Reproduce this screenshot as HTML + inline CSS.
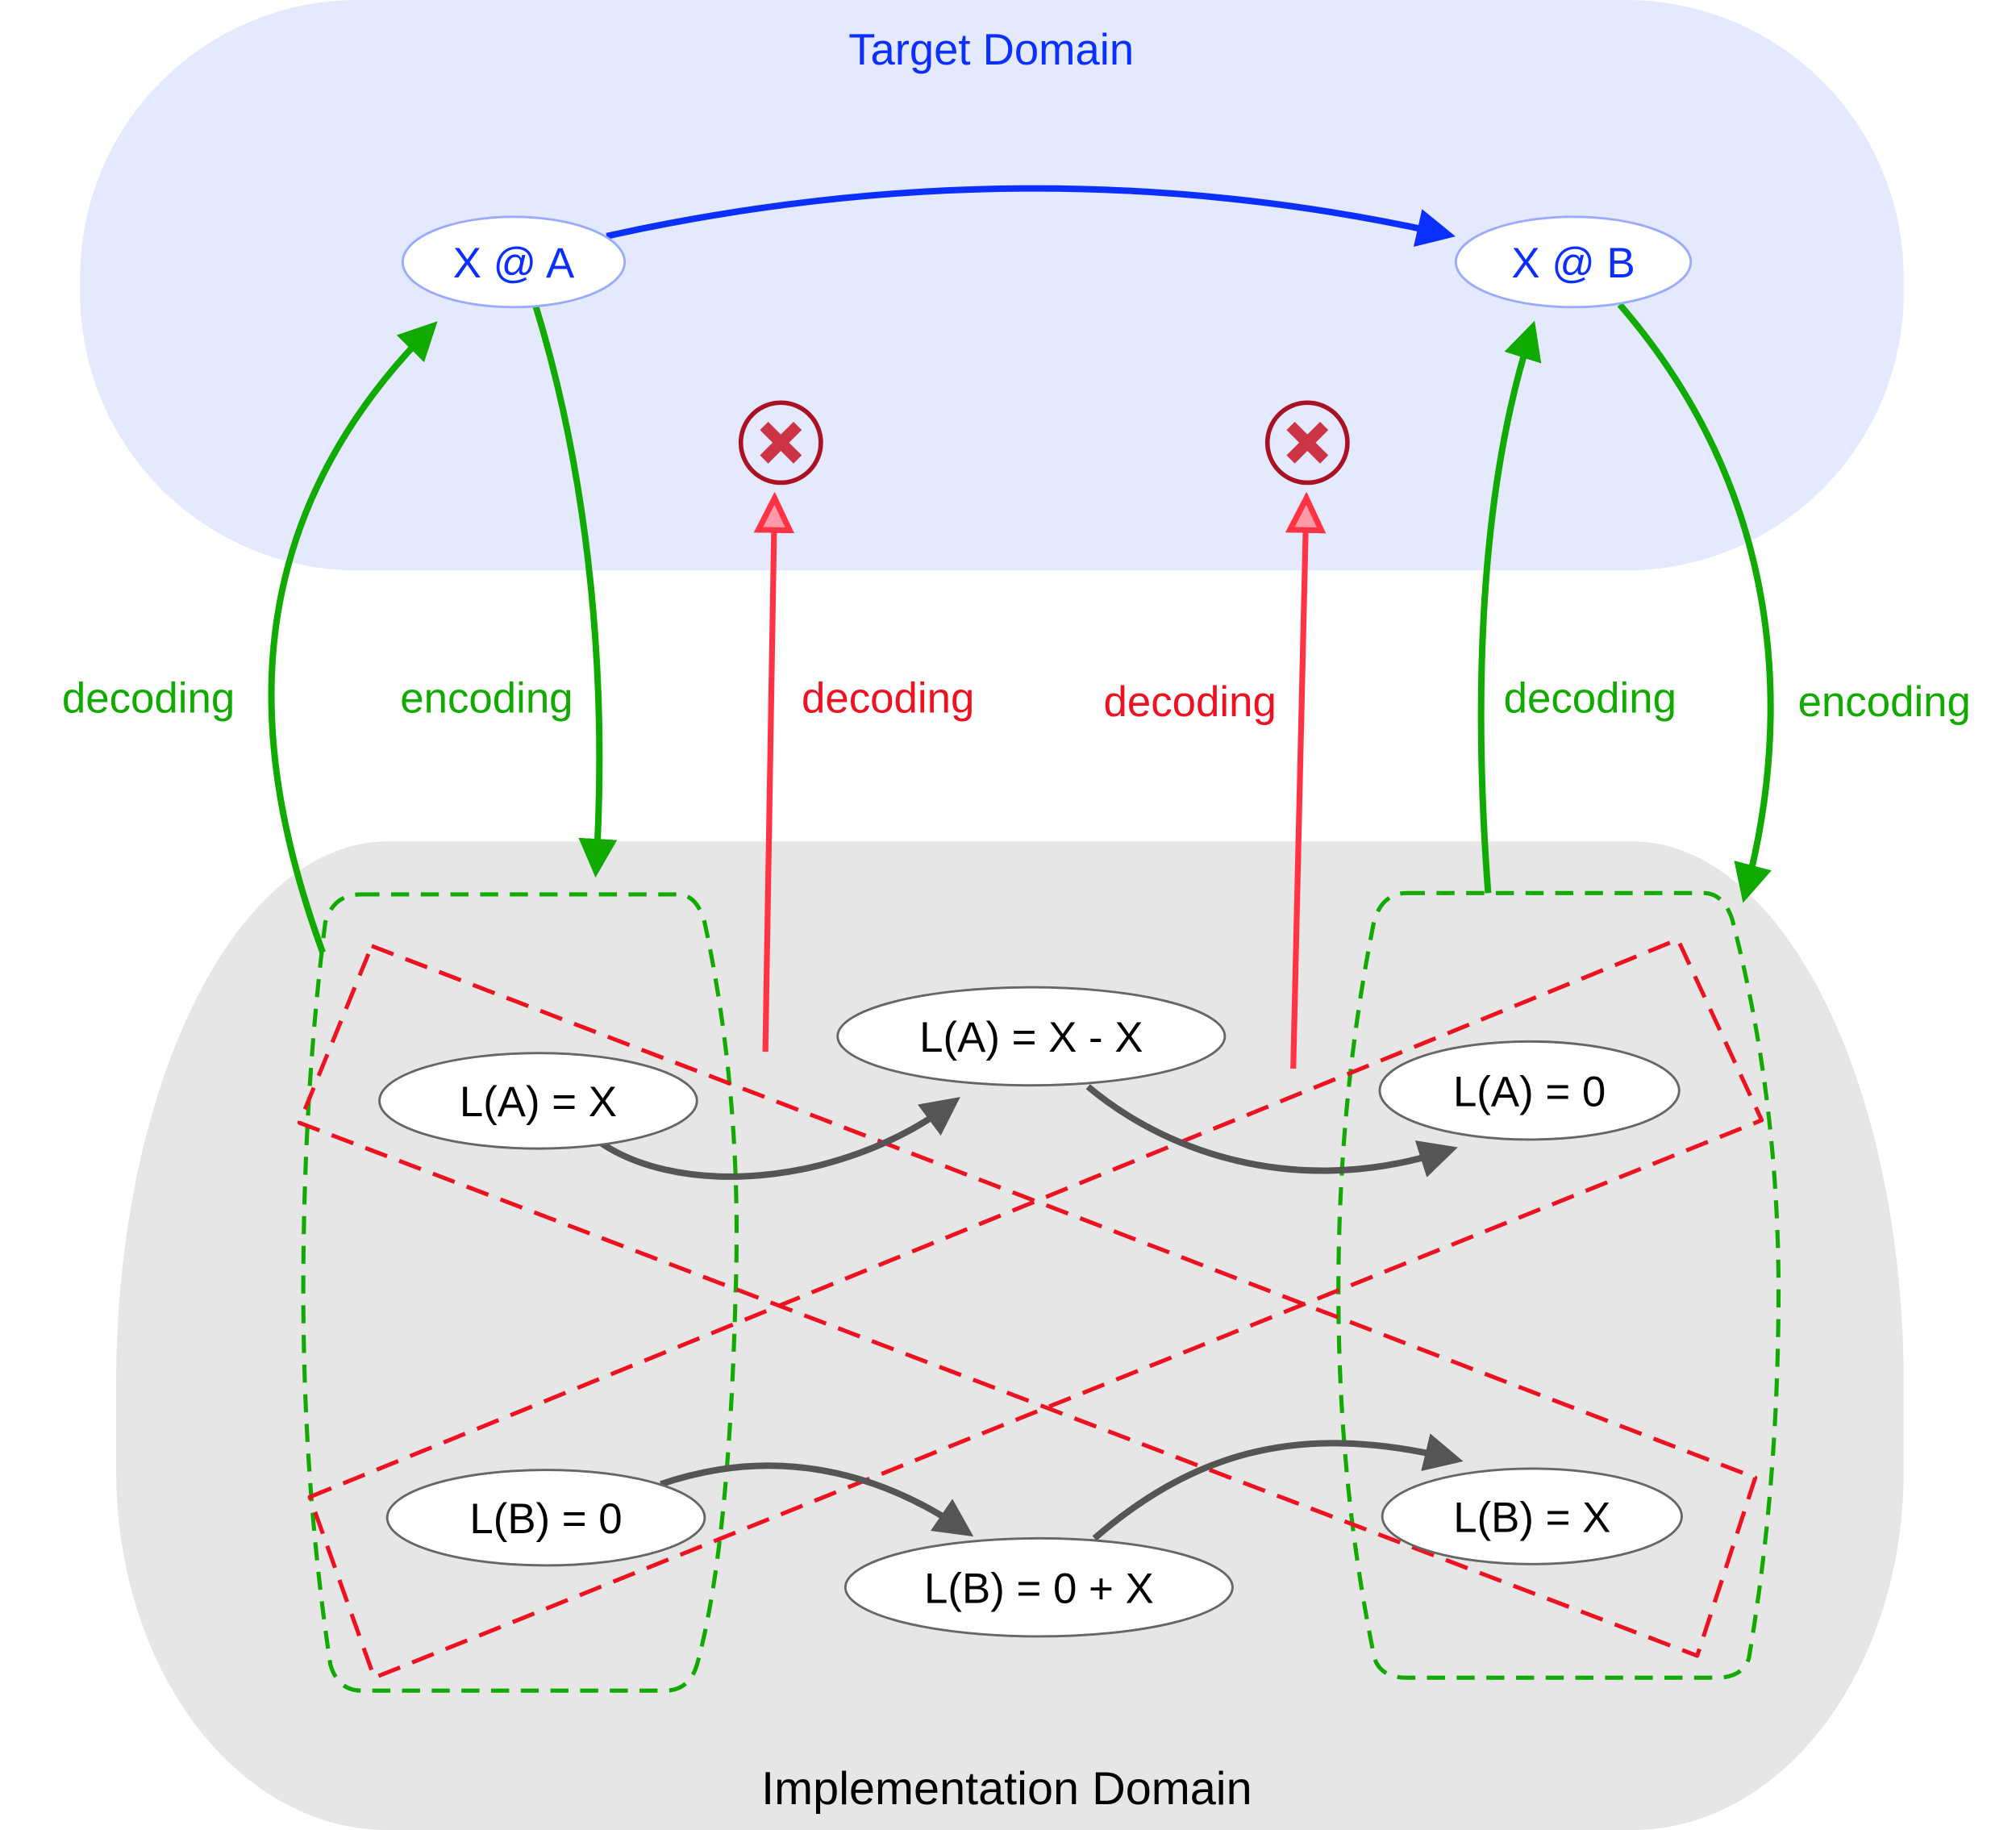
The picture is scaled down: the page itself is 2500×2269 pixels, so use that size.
<!DOCTYPE html>
<html><head><meta charset="utf-8"><style>html,body{margin:0;padding:0;background:#fff}svg{display:block}text{font-family:"Liberation Sans",sans-serif}</style></head>
<body>
<svg width="2500" height="2269" viewBox="0 0 1562 1418" preserveAspectRatio="none" xmlns="http://www.w3.org/2000/svg">
<defs>
<marker id="ag" markerWidth="6" markerHeight="6" refX="4" refY="3" orient="auto" markerUnits="strokeWidth"><path d="M0,0 L6,3 L0,6 z" fill="#11aa00"/></marker>
<marker id="ab" markerWidth="6" markerHeight="6" refX="4" refY="3" orient="auto" markerUnits="strokeWidth"><path d="M0,0 L6,3 L0,6 z" fill="#0a2fff"/></marker>
<marker id="ak" markerWidth="6" markerHeight="6" refX="4" refY="3" orient="auto" markerUnits="strokeWidth"><path d="M0,0 L6,3 L0,6 z" fill="#555"/></marker>
<marker id="ar" markerWidth="7" markerHeight="7" refX="4" refY="3.5" orient="auto" markerUnits="strokeWidth"><path d="M0.5,0.8 L6,3.5 L0.5,6.2 z" fill="#ff9aa8" stroke="#ff3344" stroke-width="1"/></marker>
</defs>
<rect x="62" y="0" width="1413" height="442" rx="215" ry="215" fill="#e5e9fe"/>
<path d="M300,652 L1265,652 A210,420 0 0 1 1475,1072 L1475,1140 A210,278 0 0 1 1265,1418 L300,1418 A210,278 0 0 1 90,1140 L90,1072 A210,420 0 0 1 300,652 Z" fill="#e6e6e6"/>
<text x="768" y="50" font-size="34" fill="#0a2fff" text-anchor="middle">Target Domain</text>
<text x="780" y="1398" font-size="36" fill="#000" text-anchor="middle">Implementation Domain</text>
<g fill="none" stroke="#11aa00" stroke-width="3.2" stroke-dasharray="14,9">
<path d="M280,693 L525,693 Q540,693 546,715 Q575,850 570,1000 Q565,1200 540,1290 Q534,1310 515,1310 L280,1310 Q262,1310 256,1290 Q235,1150 235,1000 Q235,850 252,715 Q258,693 280,693 Z"/>
<path d="M1090,692 L1320,692 Q1335,692 1342,712 Q1378,850 1378,1000 Q1378,1150 1355,1285 Q1350,1300 1330,1300 L1090,1300 Q1070,1300 1065,1285 Q1037,1150 1037,1000 Q1037,850 1065,712 Q1072,692 1090,692 Z"/>
</g>
<g fill="none" stroke="#ee1122" stroke-width="3.2" stroke-dasharray="18,10" stroke-linejoin="round">
<path d="M288,733 L1360,1145 L1315,1283 L232,870 Z"/>
<path d="M240,1160 L1300,728 L1365,868 L290,1300 Z"/>
</g>
<path d="M470,183 Q800,110 1118,181" fill="none" stroke="#0a2fff" stroke-width="5" marker-end="url(#ab)"/>
<g fill="none" stroke="#11aa00" stroke-width="5" marker-end="url(#ag)">
<path d="M250,738 C200,600 170,420 332,256"/>
<path d="M415,237 C450,350 472,500 462,670"/>
<path d="M1153,692 C1140,520 1150,370 1186,258"/>
<path d="M1255,236 C1380,380 1390,550 1353,690"/>
</g>
<g fill="none" stroke="#ff3344" stroke-width="4.5" marker-end="url(#ar)">
<path d="M593,815 L600,395"/>
<path d="M1002,828 L1012,395"/>
</g>
<g fill="none" stroke="#555" stroke-width="5" marker-end="url(#ak)">
<path d="M458,880 C520,930 650,920 736,856"/>
<path d="M843,842 C900,890 1000,930 1120,892"/>
<path d="M512,1150 C600,1120 680,1140 746,1185"/>
<path d="M848,1192 C920,1130 1000,1100 1124,1130"/>
</g>
<g font-size="33" text-anchor="middle">
<text x="115" y="552" fill="#11aa00">decoding</text>
<text x="377" y="552" fill="#11aa00">encoding</text>
<text x="688" y="552" fill="#ee1122">decoding</text>
<text x="922" y="555" fill="#ee1122">decoding</text>
<text x="1232" y="552" fill="#11aa00">decoding</text>
<text x="1460" y="555" fill="#11aa00">encoding</text>
</g>
<g stroke="#aa1122" stroke-width="3.5" fill="#e5e9fe">
<circle cx="605" cy="343" r="31"/><circle cx="1013" cy="343" r="31"/>
</g>
<g stroke="#cc3344" stroke-width="9">
<path d="M592,330 L618,356 M618,330 L592,356"/>
<path d="M1000,330 L1026,356 M1026,330 L1000,356"/>
</g>
<g fill="#fff" stroke-width="1.8">
<ellipse cx="398" cy="203" rx="86" ry="35" stroke="#99aaff"/>
<ellipse cx="1219" cy="203" rx="91" ry="35" stroke="#99aaff"/>
<ellipse cx="417" cy="853" rx="123" ry="37" stroke="#666"/>
<ellipse cx="799" cy="803" rx="150" ry="38" stroke="#666"/>
<ellipse cx="1185" cy="845" rx="116" ry="38" stroke="#666"/>
<ellipse cx="423" cy="1176" rx="123" ry="37" stroke="#666"/>
<ellipse cx="805" cy="1230" rx="150" ry="38" stroke="#666"/>
<ellipse cx="1187" cy="1175" rx="116" ry="37" stroke="#666"/>
</g>
<g font-size="33" text-anchor="middle" fill="#000">
<text x="398" y="215" fill="#0a2fff">X @ A</text>
<text x="1219" y="215" fill="#0a2fff">X @ B</text>
<text x="417" y="865">L(A) = X</text>
<text x="799" y="815">L(A) = X - X</text>
<text x="1185" y="857">L(A) = 0</text>
<text x="423" y="1188">L(B) = 0</text>
<text x="805" y="1242">L(B) = 0 + X</text>
<text x="1187" y="1187">L(B) = X</text>
</g>
</svg>
</body></html>
